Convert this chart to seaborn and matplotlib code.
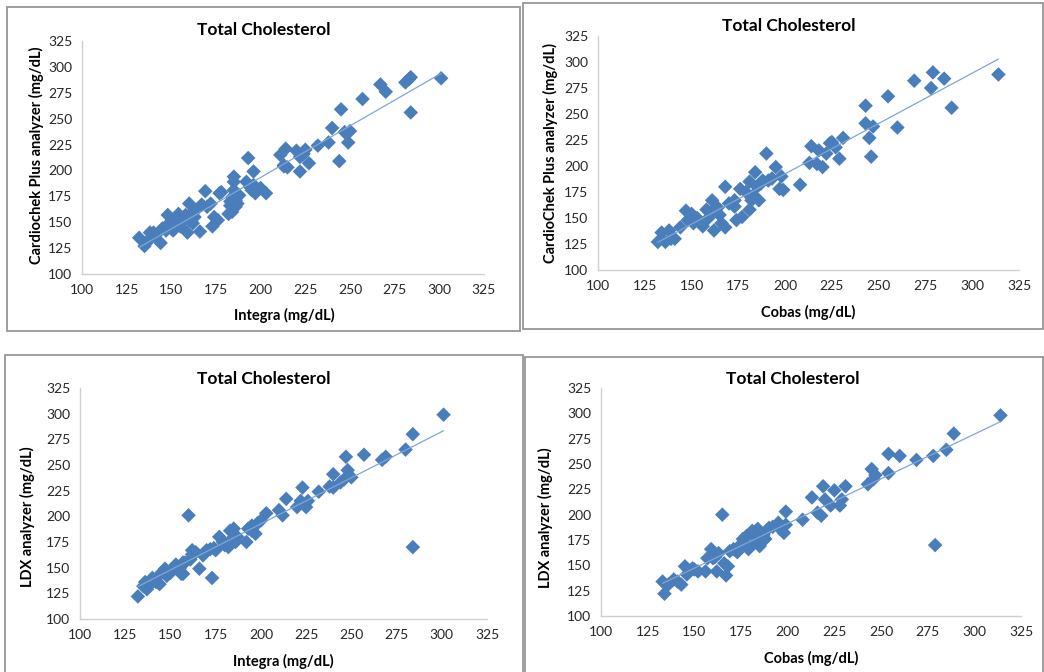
import numpy as np
import pandas as pd
import matplotlib
matplotlib.use("Agg")
import matplotlib.pyplot as plt
import seaborn as sns
from matplotlib.patches import Rectangle

# ---------------- data ----------------
# Panel 1: Integra vs CardioChek Plus
integra_cc = [132, 135, 136, 138, 138, 140, 141, 144, 145, 147, 148, 147, 150, 151, 153, 154,
              155, 156, 158, 159, 160, 160, 161, 162, 164, 166, 167, 169, 170, 172, 173, 174,
              176, 177, 178, 182, 183, 184, 185, 185, 185, 186, 187, 188, 193, 192, 194, 196,
              196, 197, 200, 203, 211, 214, 213, 215, 220, 222, 222, 224, 225, 227, 232, 238,
              240, 244, 245, 247, 249, 250, 257, 267, 270, 281, 283, 284, 284, 301,
              150, 152, 157, 163, 183, 186, 184, 195, 213]
cardiochek_i = [135, 127, 130, 134, 140, 140, 137, 130, 144, 146, 157, 142, 150, 142, 153, 158,
                146, 150, 157, 140, 168, 152, 158, 149, 162, 141, 167, 180, 165, 168, 146, 155,
                152, 178, 179, 158, 166, 174, 181, 194, 189, 171, 168, 176, 212, 189, 184, 199,
                186, 178, 183, 178, 215, 221, 205, 203, 219, 199, 213, 216, 220, 207, 224, 227,
                241, 209, 259, 237, 227, 238, 269, 283, 276, 285, 288, 290, 256, 289,
                148, 145, 152, 155, 170, 165, 160, 181, 204]

# Panel 2: Cobas vs CardioChek Plus
cobas_cc = [132, 134, 136, 138, 139, 141, 144, 147, 148, 150, 151, 156, 158, 159, 161, 162,
            163, 165, 166, 168, 168, 170, 173, 173, 174, 176, 177, 179, 181, 181, 182, 184,
            185, 186, 188, 190, 191, 195, 197, 198, 199, 208, 214, 213, 217, 218, 220, 222,
            224, 225, 227, 229, 231, 243, 243, 245, 246, 247, 255, 260, 269, 278, 279, 285,
            289, 314, 153, 160, 164, 183, 187, 193]
cardiochek_c = [127, 136, 127, 138, 130, 130, 141, 157, 148, 154, 145, 142, 158, 150, 167, 138,
                159, 153, 145, 141, 180, 164, 167, 161, 148, 178, 151, 175, 185, 158, 167, 194,
                180, 167, 186, 212, 186, 199, 178, 190, 177, 182, 219, 203, 202, 215, 199, 212,
                222, 223, 218, 207, 227, 258, 241, 227, 209, 238, 267, 237, 282, 275, 290, 284,
                256, 288, 150, 155, 160, 172, 183, 188]

# Panel 3: Integra vs LDX
integra_ldx = [132, 135, 136, 137, 139, 140, 142, 144, 145, 147, 148, 150, 153, 155, 156, 157,
               157, 160, 161, 162, 162, 166, 168, 170, 173, 174, 175, 177, 179, 182, 183, 184,
               185, 186, 192, 193, 195, 197, 198, 200, 203, 210, 212, 214, 220, 222, 223, 225,
               226, 232, 238, 240, 240, 244, 246, 247, 248, 250, 257, 267, 269, 280, 284, 284,
               301, 152, 158, 164, 172, 180, 187, 195]
ldx_i = [122, 132, 136, 129, 134, 140, 136, 134, 145, 149, 142, 145, 153, 149, 144, 155,
         144, 201, 158, 163, 167, 149, 162, 167, 140, 169, 167, 180, 175, 170, 186, 178,
         188, 175, 175, 188, 191, 183, 193, 196, 203, 206, 201, 217, 209, 215, 228, 209,
         215, 224, 229, 241, 228, 233, 236, 258, 245, 238, 260, 255, 258, 265, 280, 170,
         299, 150, 155, 165, 168, 172, 180, 186]

# Panel 4: Cobas vs LDX
cobas_ldx = [133, 134, 136, 139, 141, 143, 145, 146, 148, 149, 152, 156, 157, 159, 160, 162,
             163, 165, 166, 167, 168, 169, 173, 174, 176, 178, 179, 181, 182, 184, 185, 188,
             190, 195, 196, 198, 199, 199, 208, 213, 216, 218, 219, 220, 223, 225, 228, 229,
             231, 243, 245, 246, 247, 254, 254, 260, 269, 278, 279, 285, 289, 314,
             150, 161, 171, 177, 183, 187, 192]
ldx_c = [134, 122, 131, 136, 134, 131, 149, 141, 145, 147, 144, 144, 157, 166, 157, 144,
         162, 200, 152, 140, 149, 164, 163, 169, 176, 179, 166, 184, 172, 186, 169, 176,
         187, 192, 186, 182, 190, 203, 195, 217, 202, 199, 228, 215, 209, 224, 209, 215,
         228, 230, 245, 235, 239, 241, 260, 258, 254, 258, 170, 264, 280, 298,
         146, 158, 166, 172, 178, 180, 188]

titles = ["Total Cholesterol"] * 4
xlabels = ["Integra (mg/dL)", "Cobas (mg/dL)", "Integra (mg/dL)", "Cobas (mg/dL)"]
ylabels = ["Cardiochek Plus analyzer (mg/dL)", "CardioChek Plus analyzer (mg/dL)",
           "LDX analyzer (mg/dL)", "LDX analyzer (mg/dL)"]
ticks = [100, 125, 150, 175, 200, 225, 250, 275, 300, 325]

# ---------------- layout ----------------
W, H = 1044, 672
sns.set_theme(style="white")
plt.rcParams['font.family'] = ['Lato', 'DejaVu Sans']

fig = plt.figure(figsize=(W / 100, H / 100), dpi=100)
fig.patch.set_facecolor("white")

def fx(px):
    return px / W

def fy(py):
    return 1 - py / H

# pixel boxes: (left, top, right, bottom)
axes_px = [(82, 41, 484, 274), (598, 36, 1019, 270), (80, 388, 487, 619), (601, 388, 1021, 616)]
frames_px = [(7, 7, 520, 331), (523, 3, 1043, 329), (5, 355, 523, 674), (525, 357, 1043, 674)]
title_px = [(264, 30), (789, 26), (264, 379), (793, 379)]
xlab_px = [(284, 315), (808, 312), (283, 661), (811, 658)]
ylab_px = [(36, 155), (550, 153), (27, 517), (545, 518)]

datasets = [(integra_cc, cardiochek_i), (cobas_cc, cardiochek_c),
            (integra_ldx, ldx_i), (cobas_ldx, ldx_c)]

marker_color = "#4A7EBB"
line_color = "#7FA6D6"

for i, (xs, ys) in enumerate(datasets):
    l, t, r, b = frames_px[i]
    fig.patches.append(Rectangle((fx(l), fy(b)), fx(r) - fx(l), fy(t) - fy(b),
                                 transform=fig.transFigure, fill=False,
                                 edgecolor="#969696", linewidth=1.3, zorder=0))
    l, t, r, b = axes_px[i]
    ax = fig.add_axes([fx(l), fy(b), fx(r) - fx(l), fy(t) - fy(b)])
    df = pd.DataFrame({"x": xs, "y": ys})
    sns.regplot(data=df, x="x", y="y", ax=ax, ci=None, marker="D",
                scatter_kws=dict(s=55, color=marker_color, edgecolor="none", alpha=1),
                line_kws=dict(color=line_color, linewidth=0.9, zorder=1))
    ax.set_xlim(100, 325)
    ax.set_ylim(100, 325)
    ax.set_xticks(ticks)
    ax.set_yticks(ticks)
    ax.tick_params(axis="both", length=0, labelsize=10, colors="#262626", pad=7)
    ax.set_xlabel("")
    ax.set_ylabel("")
    for side in ["top", "right"]:
        ax.spines[side].set_visible(False)
    for side in ["left", "bottom"]:
        ax.spines[side].set_color("#D0D0D0")
        ax.spines[side].set_linewidth(1.0)
    ax.set_facecolor("none")

    tx, ty = title_px[i]
    fig.text(fx(tx), fy(ty), titles[i], ha="center", va="center",
             fontsize=12.5, fontweight="bold", color="#000000")
    tx, ty = xlab_px[i]
    fig.text(fx(tx), fy(ty), xlabels[i], ha="center", va="center",
             fontsize=10.5, fontweight="bold", color="#000000")
    tx, ty = ylab_px[i]
    fig.text(fx(tx), fy(ty), ylabels[i], ha="center", va="center", rotation=90,
             fontsize=10.5, fontweight="bold", color="#000000")

fig.savefig("out.png", dpi=100, facecolor="white")
